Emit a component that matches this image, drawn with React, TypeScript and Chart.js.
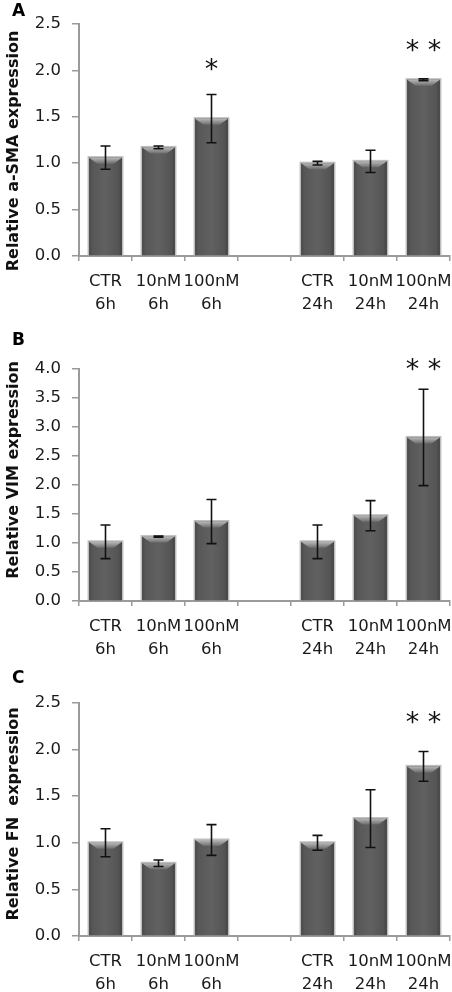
import React, { useEffect, useRef } from "react";
import { Chart, registerables } from "chart.js";
Chart.register(...registerables);

const categories: (string | string[])[] = [
  ["CTR", "6h"], ["10nM", "6h"], ["100nM", "6h"], "",
  ["CTR", "24h"], ["10nM", "24h"], ["100nM", "24h"],
];

const smaValues = [1.06, 1.17, 1.48, null, 1.0, 1.02, 1.9];
const smaErrors = [0.125, 0.015, 0.26, null, 0.02, 0.12, 0.01];
const smaStars = ["", "", "*", "", "", "", "**"];
const smaStarLevels = [null, null, 2.06, null, null, null, 2.27];

const vimValues = [1.02, 1.11, 1.37, null, 1.02, 1.47, 2.82];
const vimErrors = [0.29, 0.01, 0.38, null, 0.29, 0.26, 0.83];
const vimStars = ["", "", "", "", "", "", "**"];
const vimStarLevels = [null, null, null, null, null, null, 4.07];

const fnValues = [1.0, 0.78, 1.03, null, 1.0, 1.26, 1.82];
const fnErrors = [0.15, 0.035, 0.165, null, 0.08, 0.31, 0.16];
const fnStars = ["", "", "", "", "", "", "**"];
const fnStarLevels = [null, null, null, null, null, null, 2.34];

type Spec = {
  letter: string;
  title: string;
  values: (number | null)[];
  errors: (number | null)[];
  stars: string[];
  starLevels: (number | null)[];
  yMax: number;
  top: number;
  bottom: number;
  height: number;
  offset: number;
  titleCenter: number;
  letterTop: number;
};

const panels: Spec[] = [
  { letter: "A", title: "Relative a-SMA expression", values: smaValues, errors: smaErrors, stars: smaStars, starLevels: smaStarLevels, yMax: 2.5, top: 24, bottom: 256, height: 330, offset: 0, titleCenter: 151, letterTop: 0 },
  { letter: "B", title: "Relative VIM expression", values: vimValues, errors: vimErrors, stars: vimStars, starLevels: vimStarLevels, yMax: 4.0, top: 39, bottom: 271, height: 330, offset: 330, titleCenter: 140, letterTop: -1 },
  { letter: "C", title: "Relative FN  expression", values: fnValues, errors: fnErrors, stars: fnStars, starLevels: fnStarLevels, yMax: 2.5, top: 43, bottom: 276, height: 332, offset: 660, titleCenter: 154, letterTop: 7 },
];

const FONT = "'DejaVu Sans', sans-serif";

function Panel({ spec }: { spec: Spec }) {
  const ref = useRef<HTMLCanvasElement>(null);
  useEffect(() => {
    const decor = {
      id: "decor",
      afterDatasetsDraw(chart: any) {
        const ctx = chart.ctx;
        const meta = chart.getDatasetMeta(0);
        const yScale = chart.scales.y;
        ctx.save();
        meta.data.forEach((el: any, i: number) => {
          const v = spec.values[i];
          if (v == null) return;
          const { x, y, base, width } = el.getProps(["x", "y", "base", "width"], true);
          const l = x - width / 2;
          const r = x + width / 2;
          ctx.fillStyle = "#bdbdbd";
          ctx.fillRect(l - 1.5, y - 1.5, width + 3, base - y + 1.5);
          const g = ctx.createLinearGradient(l, 0, r, 0);
          g.addColorStop(0, "#474747");
          g.addColorStop(0.1, "#575757");
          g.addColorStop(0.5, "#616161");
          g.addColorStop(0.9, "#545454");
          g.addColorStop(1, "#414141");
          ctx.fillStyle = g;
          ctx.fillRect(l, y, width, base - y);
          const bev = Math.min(6, (base - y) / 2);
          const gb = ctx.createLinearGradient(0, y, 0, y + bev);
          gb.addColorStop(0, "#b8b8b8");
          gb.addColorStop(1, "#6e6e6e");
          ctx.fillStyle = gb;
          ctx.beginPath();
          ctx.moveTo(l, y);
          ctx.lineTo(r, y);
          ctx.lineTo(r - bev * 1.4, y + bev);
          ctx.lineTo(l + bev * 1.4, y + bev);
          ctx.closePath();
          ctx.fill();
        });
        ctx.strokeStyle = "#111111";
        ctx.lineWidth = 1.6;
        meta.data.forEach((el: any, i: number) => {
          const v = spec.values[i];
          const e = spec.errors[i];
          if (v == null || e == null) return;
          const { x } = el.getProps(["x"], true);
          const yt = yScale.getPixelForValue(v + e);
          const yb = yScale.getPixelForValue(v - e);
          ctx.beginPath();
          ctx.moveTo(x, yt);
          ctx.lineTo(x, yb);
          ctx.moveTo(x - 5, yt);
          ctx.lineTo(x + 5, yt);
          ctx.moveTo(x - 5, yb);
          ctx.lineTo(x + 5, yb);
          ctx.stroke();
        });
        ctx.fillStyle = "#111111";
        ctx.font = `27px ${FONT}`;
        ctx.textAlign = "center";
        ctx.textBaseline = "alphabetic";
        meta.data.forEach((el: any, i: number) => {
          const s = spec.stars[i];
          const lv = spec.starLevels[i];
          if (!s || lv == null) return;
          const { x } = el.getProps(["x"], true);
          const txt = s.split("").join(" ");
          const m = ctx.measureText(txt);
          const yc = yScale.getPixelForValue(lv);
          ctx.fillText(txt, x, yc + (m.actualBoundingBoxAscent - m.actualBoundingBoxDescent) / 2);
        });
        ctx.restore();
      },
    };

    const chart = new Chart(ref.current as HTMLCanvasElement, {
      type: "bar",
      data: {
        labels: categories,
        datasets: [
          {
            data: spec.values as any,
            backgroundColor: "#5a5a5a",
            borderWidth: 0,
            categoryPercentage: 1,
            barPercentage: 0.62,
          },
        ],
      },
      options: {
        responsive: false,
        animation: false,
        devicePixelRatio: 1,
        layout: { padding: { top: spec.top, bottom: 0, left: 0, right: 2 } },
        plugins: {
          legend: { display: false },
          tooltip: { enabled: false },
        },
        scales: {
          x: {
            grid: { offset: true, drawOnChartArea: false, tickLength: 5, color: "#9a9a9a", lineWidth: 1.5 },
            border: { color: "#9a9a9a", width: 2 },
            ticks: {
              autoSkip: false,
              maxRotation: 0,
              minRotation: 0,
              padding: 9,
              color: "#1a1a1a",
              font: { family: FONT, size: 16.5, lineHeight: 1.41 },
            },
            afterFit: (s: any) => {
              s.height = spec.height - spec.bottom;
              s.paddingLeft = 0;
              s.paddingRight = 0;
            },
          },
          y: {
            min: 0,
            max: spec.yMax,
            ticks: {
              stepSize: 0.5,
              padding: 11,
              color: "#1a1a1a",
              font: { family: FONT, size: 16.5 },
              callback: (v: any) => Number(v).toFixed(1),
            },
            grid: { drawOnChartArea: false, tickLength: 7, color: "#9a9a9a", lineWidth: 1.5 },
            border: { color: "#9a9a9a", width: 2 },
            afterFit: (s: any) => {
              s.width = 79;
            },
          },
        },
      },
      plugins: [decor],
    });
    return () => chart.destroy();
  }, [spec]);

  return (
    <div style={{ position: "absolute", left: 0, top: spec.offset, width: 452, height: spec.height }}>
      <canvas ref={ref} width={452} height={spec.height} style={{ display: "block" }} />
      <div
        style={{
          position: "absolute",
          left: 12,
          top: spec.letterTop,
          font: `bold 17px ${FONT}`,
          color: "#000",
        }}
      >
        {spec.letter}
      </div>
      <div
        style={{
          position: "absolute",
          left: 12,
          top: spec.titleCenter,
          transform: "translate(-50%, -50%) rotate(-90deg)",
          font: `bold 16px ${FONT}`,
          color: "#111",
          whiteSpace: "pre",
        }}
      >
        {spec.title}
      </div>
    </div>
  );
}

export default function App() {
  return (
    <div style={{ position: "absolute", left: 0, top: 0, width: 452, height: 992, background: "#fff", overflow: "hidden" }}>
      {panels.map((p) => (
        <Panel key={p.letter} spec={p} />
      ))}
    </div>
  );
}
